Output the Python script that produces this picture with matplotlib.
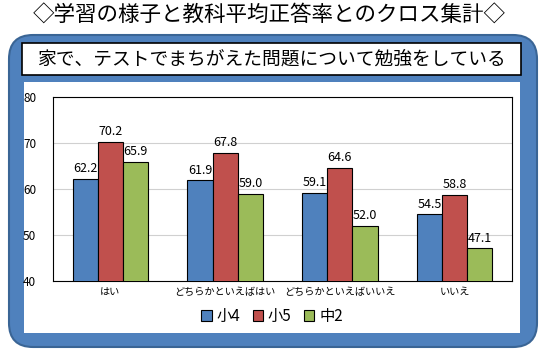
import matplotlib.pyplot as plt
import numpy as np
from matplotlib.patches import FancyBboxPatch, Rectangle

plt.rcParams['font.family'] = ['Noto Sans CJK JP', 'DejaVu Sans']

# ---- Data ----
categories = ["はい", "どちらかといえばはい", "どちらかといえばいいえ", "いいえ"]
series_names = ["小4", "小5", "中2"]
sho4 = [62.2, 61.9, 59.1, 54.5]
sho5 = [70.2, 67.8, 64.6, 58.8]
chu2 = [65.9, 59.0, 52.0, 47.1]
colors = ["#4F81BD", "#C0504D", "#9BBB59"]

title = "◇学習の様子と教科平均正答率とのクロス集計◇"
subtitle = "家で、テストでまちがえた問題について勉強をしている"

W, H = 543, 354
fig = plt.figure(figsize=(W / 100, H / 100), dpi=100)

# background decorations in pixel coords
bg = fig.add_axes([0, 0, 1, 1])
bg.set_xlim(0, W)
bg.set_ylim(H, 0)
bg.axis("off")

bg.add_patch(FancyBboxPatch((9, 35), 528, 312, boxstyle="round,pad=0,rounding_size=24",
                            fc="#4F81BD", ec="#3A6595", lw=1.5))
bg.add_patch(Rectangle((24, 82), 496, 251, fc="white", ec="none"))
bg.add_patch(Rectangle((22, 43), 499, 32, fc="white", ec="black", lw=1.2))
bg.text(W / 2 - 2, 16, title, ha="center", va="center", fontsize=15.5)
bg.text(271, 59, subtitle, ha="center", va="center", fontsize=13.5)

# ---- Bar chart ----
ax = fig.add_axes([53 / W, 1 - 281 / H, (512 - 53) / W, (281 - 97) / H])
x = np.arange(len(categories))
w = 0.22
for i, (vals, name) in enumerate(zip([sho4, sho5, chu2], series_names)):
    bars = ax.bar(x + (i - 1) * w, vals, w, color=colors[i], edgecolor="black",
                  linewidth=0.8, label=name, zorder=3)
    for b, v in zip(bars, vals):
        ax.text(b.get_x() + b.get_width() / 2, v + 0.8, f"{v:.1f}", ha="center",
                va="bottom", fontsize=9)

ax.set_ylim(40, 80)
ax.set_xlim(-0.5, len(categories) - 0.5)
ax.set_yticks([40, 50, 60, 70, 80])
ax.tick_params(axis="y", labelsize=8.5, length=0, pad=12)
ax.tick_params(axis="x", labelsize=7.3, length=0, pad=4)
ax.set_xticks(x)
ax.set_xticklabels(categories)
ax.grid(axis="y", color="#D0D0D0", linewidth=0.8, zorder=0)
for s in ax.spines.values():
    s.set_color("black")
    s.set_linewidth(0.8)

fig.legend(loc="center", bbox_to_anchor=(272 / W, 1 - 316 / H), ncol=3, frameon=False,
           fontsize=11, handlelength=0.7, handleheight=0.7, handletextpad=0.3,
           columnspacing=0.8)

plt.savefig("out.png", dpi=100)
plt.close()
